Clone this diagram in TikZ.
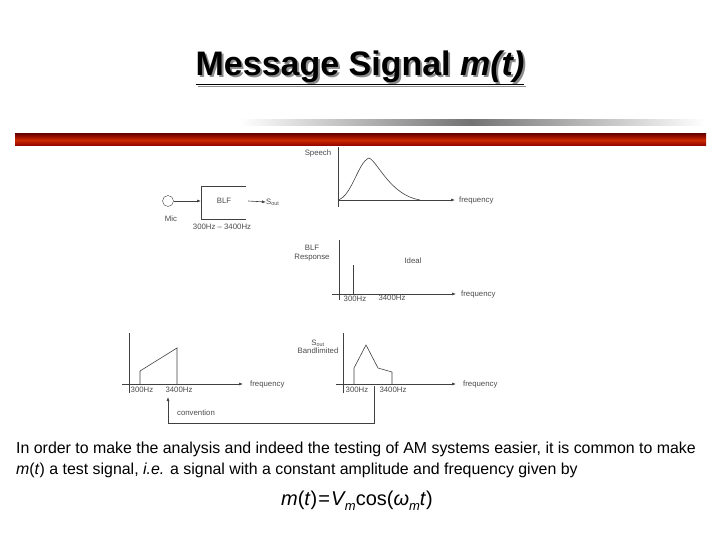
\documentclass[tikz,border=0pt]{standalone}
\usepackage{fontspec}
\setmainfont{Liberation Sans}
\usetikzlibrary{arrows.meta}
\begin{document}
\begin{tikzpicture}[x=1pt,y=-1pt,
  ln/.style={draw=black!75,line width=0.6pt},
  ax/.style={draw=black!75,line width=0.6pt,-{Latex[length=4pt,width=3pt]}},
  sm/.style={font=\fontsize{7.8}{8.5}\selectfont,text=black!70,inner sep=0pt}]
\useasboundingbox (0,0) rectangle (720,540);
\fill[white] (0,0) rectangle (720,540);
% title
\node[text=black!45] (tsh) at (362,70) {\fontsize{34}{38}\selectfont\bfseries\underline{Message Signal \textit{m(t)}}};
\node (title) at (360,68) {\fontsize{34}{38}\selectfont\bfseries\underline{Message Signal \textit{m(t)}}};
% bars
\shade[left color=white,right color=black!55] (240,120) rectangle (470,126);
\shade[left color=black!55,right color=white] (470,120) rectangle (705,126);
\shade[top color=red!45!black,bottom color=red!55!black,middle color=red!60!orange!80!black] (15,134) rectangle (706,146);
% mic + BLF
\node[draw=black!75,circle,minimum size=11pt,inner sep=0] (mic) at (168,201) {};
\node[sm] (micl) at (171,219) {Mic};
\coordinate (bin) at (201,201);
\draw[ax] (mic.east) -- (bin);
\draw[ln] (246,186) -- (201,186) -- (201,219) -- (246,219);
\node[sm] (blf) at (224,201) {BLF};
\coordinate (bo) at (248,201);
\node[sm,anchor=west] (sout) at (266,202) {S$_{\mathrm{out}}$};
\draw[ax] (bo) -- (sout.west);
\node[sm] (rng) at (222,227) {300Hz -- 3400Hz};
% speech
\coordinate (s0) at (338,200);
\draw[ln] (338,147) -- (338,207);
\coordinate (se) at (455,200);
\draw[ax] (s0) -- (se);
\node[sm,anchor=west] (sf) at (459,200) {frequency};
\node[sm] (sp) at (318,153) {Speech};
\draw[ln] (338,200) .. controls (352,196) and (358,162) .. (369,158) .. controls (378,162) and (390,195) .. (420,200);
% BLF response
\draw[ln] (339,240) -- (339,300);
\coordinate (r0) at (332,294);
\coordinate (re) at (456,294);
\draw[ax] (r0) -- (re);
\node[sm,anchor=west] (rf) at (461,294) {frequency};
\draw[ln] (353,265) -- (353,294);
\node[sm,align=center] (br) at (312,253) {BLF\\Response};
\node[sm] (id) at (413,261) {Ideal};
\node[sm] (r1) at (355,299) {300Hz};
\node[sm] (r2) at (392,298) {3400Hz};
% bottom left
\draw[ln] (129,333) -- (129,393);
\coordinate (l0) at (122,384);
\coordinate (le) at (243,384);
\draw[ax] (l0) -- (le);
\node[sm,anchor=west] (lf) at (250,384) {frequency};
\draw[ln] (140,384) -- (140,371) -- (177,348) -- (177,384);
\node[sm] (l1) at (142,390) {300Hz};
\node[sm] (l2) at (179,390) {3400Hz};
% bottom right
\draw[ln] (343,333) -- (343,393);
\coordinate (q0) at (336,384);
\coordinate (qe) at (456,384);
\draw[ax] (q0) -- (qe);
\node[sm,anchor=west] (qf) at (463,384) {frequency};
\draw[ln] (354,384) -- (354,368) -- (366,345) -- (378,368) -- (392,372) -- (392,384);
\node[sm,align=center] (sb) at (318,347) {S$_{\mathrm{out}}$\\Bandlimited};
\node[sm] (q1) at (357,390) {300Hz};
\node[sm] (q2) at (393,390) {3400Hz};
% convention
\coordinate (c1) at (374,386);
\coordinate (c2) at (168,397);
\draw[ax] (c1) -- (374,423) -- (168,423) -- (c2);
\node[sm] (conv) at (196,413) {convention};
% text
\node[anchor=north west,align=left,inner sep=0,font=\fontsize{15.9}{21}\selectfont] (para) at (16,442)
 {In order to make the analysis and indeed the testing of AM systems easier, it is common to make\\
 \textit{m}(\textit{t}) a test signal, \textit{i.e.} a signal with a constant amplitude and frequency given by};
\node (eq) at (357,501) {\fontsize{20}{22}\selectfont \textit{m}(\textit{t})\kern1pt=\kern1pt\textit{V}\kern-1pt\raisebox{-0.25em}{\fontsize{13}{14}\selectfont\textit{m}}cos(\textit{ω}\raisebox{-0.25em}{\fontsize{13}{14}\selectfont\textit{m}}\textit{t})};
\end{tikzpicture}
\end{document}
